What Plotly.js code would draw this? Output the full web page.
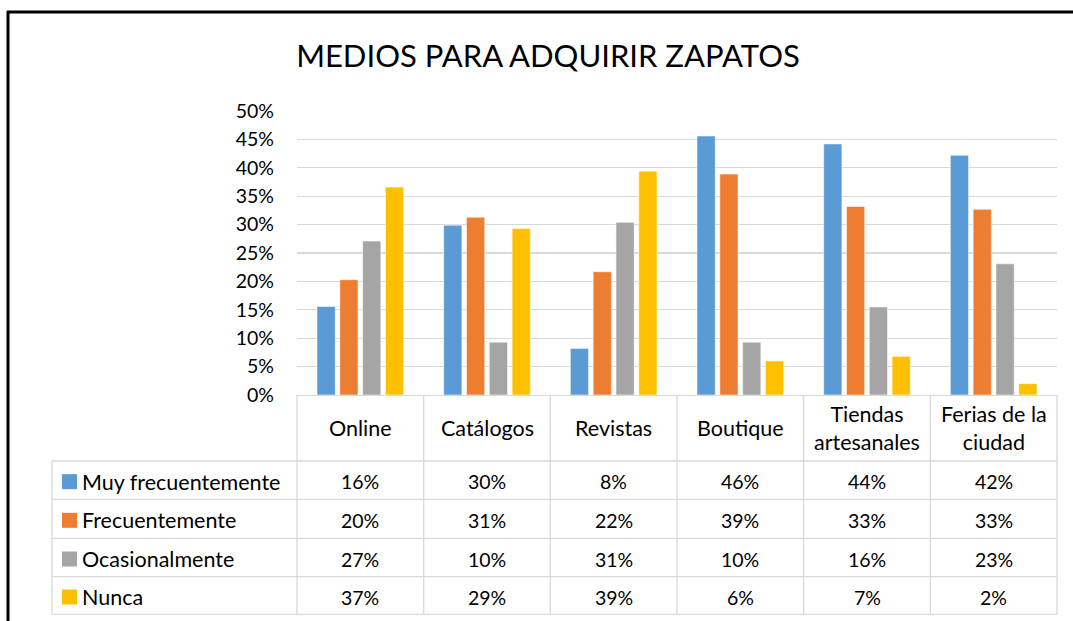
<!DOCTYPE html>
<html>
<head>
<meta charset="utf-8">
<script src="https://cdn.plot.ly/plotly-3.0.1.min.js"></script>
<style>
  html, body { margin: 0; padding: 0; background: #ffffff; }
  #chart { width: 1073px; height: 621px; }
</style>
</head>
<body>
<div id="chart"></div>
<script>
// ---- DATA ----
const categories = ['Online', 'Catálogos', 'Revistas', 'Boutique', 'Tiendas artesanales', 'Ferias de la ciudad'];
const headerLabels = ['Online', 'Catálogos', 'Revistas', 'Boutique', 'Tiendas<br>artesanales', 'Ferias de la<br>ciudad'];
const seriesNames = ['Muy frecuentemente', 'Frecuentemente', 'Ocasionalmente', 'Nunca'];
const muyFrecuentemente = [0.156, 0.299, 0.082, 0.456, 0.442, 0.422];
const frecuentemente    = [0.203, 0.313, 0.217, 0.389, 0.332, 0.327];
const ocasionalmente    = [0.271, 0.093, 0.304, 0.093, 0.155, 0.231];
const nunca             = [0.366, 0.293, 0.394, 0.060, 0.068, 0.020];
// values as printed in the data table
const tableMuyFrecuentemente = ['16%', '30%', '8%', '46%', '44%', '42%'];
const tableFrecuentemente    = ['20%', '31%', '22%', '39%', '33%', '33%'];
const tableOcasionalmente    = ['27%', '10%', '31%', '10%', '16%', '23%'];
const tableNunca             = ['37%', '29%', '39%', '6%', '7%', '2%'];
const yTickValues = [0, 0.05, 0.10, 0.15, 0.20, 0.25, 0.30, 0.35, 0.40, 0.45, 0.50];
const yTickLabels = ['0%', '5%', '10%', '15%', '20%', '25%', '30%', '35%', '40%', '45%', '50%'];

// ---- STYLE / LAYOUT ----
const colors = ['#5B9BD5', '#ED7D31', '#A5A5A5', '#FFC000'];
const FONT = 'Lato, "Open Sans", sans-serif';
const W = 1073, H = 621;
const L = 297, R = 1057, T = 111, B = 395;   // plot area in pixels
const xp = px => (px - L) / (R - L);
const yp = py => (B - py) / (B - T);

const seriesValues = [muyFrecuentemente, frecuentemente, ocasionalmente, nunca];
const tableValues = [tableMuyFrecuentemente, tableFrecuentemente, tableOcasionalmente, tableNunca];

const traces = seriesNames.map((name, i) => ({
  type: 'bar',
  name: name,
  x: categories,
  y: seriesValues[i],
  marker: { color: colors[i], line: { color: 'rgba(255,255,255,0.55)', width: 1 } },
  hoverinfo: 'x+y+name'
}));

const gridColor = '#d9d9d9';
const shapes = [];
const annotations = [];

// outer frame (cropped chart border)
shapes.push({ type: 'line', xref: 'paper', yref: 'paper', x0: xp(8), x1: xp(8), y0: yp(11), y1: yp(640), line: { color: '#000', width: 3 } });
shapes.push({ type: 'line', xref: 'paper', yref: 'paper', x0: xp(7), x1: xp(1090), y0: yp(12), y1: yp(12), line: { color: '#000', width: 3 } });

// data table geometry
const nCat = categories.length;
const colW = (R - L) / nCat;
const headerBottom = 461;
const rowLines = [461, 499.3, 538.3, 576.7, 614.3];
const legendLeft = 52;

// vertical lines between categories (header + body)
for (let k = 0; k <= nCat; k++) {
  const px = L + k * colW;
  shapes.push({ type: 'line', xref: 'paper', yref: 'paper', x0: xp(px), x1: xp(px), y0: yp(B), y1: yp(rowLines[rowLines.length - 1]), line: { color: gridColor, width: 1.3 } });
}
// legend column left border
shapes.push({ type: 'line', xref: 'paper', yref: 'paper', x0: xp(legendLeft), x1: xp(legendLeft), y0: yp(headerBottom), y1: yp(rowLines[rowLines.length - 1]), line: { color: gridColor, width: 1.3 } });
// horizontal row lines
rowLines.forEach(py => {
  shapes.push({ type: 'line', xref: 'paper', yref: 'paper', x0: xp(legendLeft), x1: xp(R), y0: yp(py), y1: yp(py), line: { color: gridColor, width: 1.3 } });
});

// header labels
headerLabels.forEach((lab, k) => {
  annotations.push({ xref: 'paper', yref: 'paper', x: xp(L + (k + 0.5) * colW), y: yp(428), text: lab, showarrow: false, xanchor: 'center', yanchor: 'middle', align: 'center', font: { family: FONT, size: 21.5, color: '#000' } });
});

// rows
seriesNames.forEach((name, i) => {
  const yc = (rowLines[i] + rowLines[i + 1]) / 2 + 1.5;
  shapes.push({ type: 'rect', xref: 'paper', yref: 'paper', x0: xp(62), x1: xp(77), y0: yp(yc - 7.5), y1: yp(yc + 7.5), fillcolor: colors[i], line: { width: 0 } });
  annotations.push({ xref: 'paper', yref: 'paper', x: xp(80), y: yp(yc), text: name, showarrow: false, xanchor: 'left', yanchor: 'middle', font: { family: FONT, size: 21.5, color: '#000' } });
  tableValues[i].forEach((v, k) => {
    annotations.push({ xref: 'paper', yref: 'paper', x: xp(L + (k + 0.5) * colW), y: yp(yc), text: v, showarrow: false, xanchor: 'center', yanchor: 'middle', font: { family: FONT, size: 19.5, color: '#000' } });
  });
});

const layout = {
  width: W, height: H,
  margin: { l: L, r: W - R, t: T, b: H - B, pad: 0 },
  paper_bgcolor: '#ffffff',
  plot_bgcolor: '#ffffff',
  showlegend: false,
  barmode: 'group',
  bargap: 0.28,
  bargroupgap: 0.2,
  title: {
    text: 'MEDIOS PARA ADQUIRIR ZAPATOS',
    xref: 'container', yref: 'container',
    x: 548 / W, y: 1 - 56 / H,
    xanchor: 'center', yanchor: 'middle',
    font: { family: FONT, size: 31, color: '#000' }
  },
  xaxis: {
    type: 'category',
    showticklabels: false,
    showgrid: false,
    zeroline: false,
    showline: true,
    linecolor: gridColor,
    linewidth: 1.3,
    ticks: ''
  },
  yaxis: {
    range: [0, 0.5],
    tickvals: yTickValues,
    ticktext: yTickLabels,
    showgrid: true,
    gridcolor: gridColor,
    gridwidth: 1.3,
    zeroline: false,
    showline: false,
    ticks: '',
    ticklabelstandoff: 22,
    tickfont: { family: FONT, size: 19.5, color: '#000' }
  },
  shapes: shapes,
  annotations: annotations
};

Plotly.newPlot('chart', traces, layout, { displayModeBar: false, staticPlot: true });
</script>
</body>
</html>
